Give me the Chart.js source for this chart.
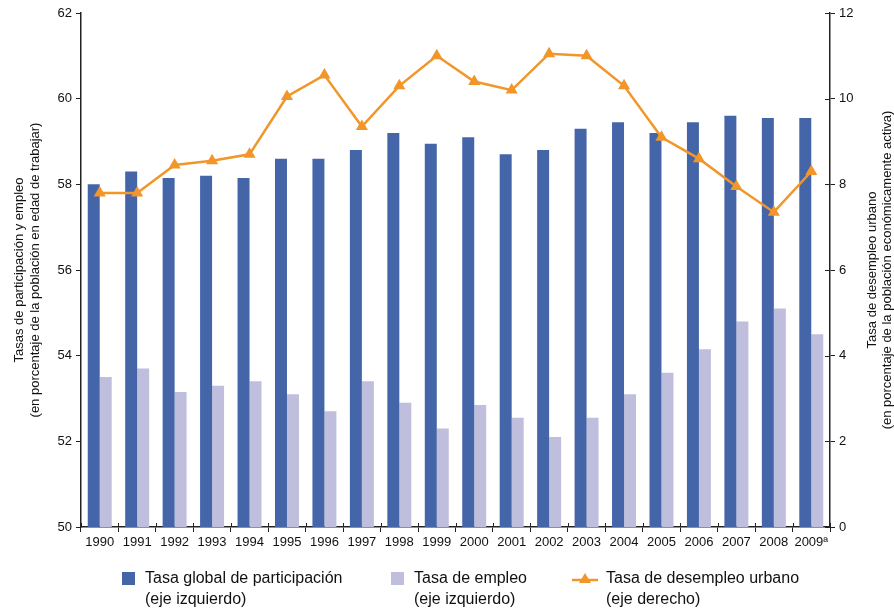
<!DOCTYPE html>
<html>
<head>
<meta charset="utf-8">
<script src="https://cdn.jsdelivr.net/npm/chart.js@4.4.1/dist/chart.umd.min.js"></script>
<style>
  html, body { margin: 0; padding: 0; background: #fff; }
  #wrap { position: relative; width: 894px; height: 608px; font-family: "Liberation Sans", Arial, sans-serif; }
  #legend { position: absolute; left: 0; top: 567px; width: 894px; height: 41px; font-size: 16px; color: #111; }
  .item { position: absolute; top: 0; line-height: 21px; }
  .sw { position: absolute; top: 5px; width: 13px; height: 13px; }
</style>
</head>
<body>
<div id="wrap">
  <canvas id="chart" width="894" height="608"></canvas>
  <div id="legend"></div>
</div>
<script>
// values
let years = ["1990","1991","1992","1993","1994","1995","1996","1997","1998","1999",
             "2000","2001","2002","2003","2004","2005","2006","2007","2008","2009ª"];
let tasaGlobal = [58.0, 58.3, 58.15, 58.2, 58.15, 58.6, 58.6, 58.8, 59.2, 58.95,
                  59.1, 58.7, 58.8, 59.3, 59.45, 59.2, 59.45, 59.6, 59.55, 59.55];
let tasaEmpleo = [53.5, 53.7, 53.15, 53.3, 53.4, 53.1, 52.7, 53.4, 52.9, 52.3,
                  52.85, 52.55, 52.1, 52.55, 53.1, 53.6, 54.15, 54.8, 55.1, 54.5];
let desempleo = [7.8, 7.8, 8.45, 8.55, 8.7, 10.05, 10.55, 9.35, 10.3, 11.0,
                 10.4, 10.2, 11.05, 11.0, 10.3, 9.1, 8.6, 7.95, 7.35, 8.3];
let leftTicks = [50, 52, 54, 56, 58, 60, 62];
let rightTicks = [0, 2, 4, 6, 8, 10, 12];

let legendItems = [
    { l1: "Tasa global de participación", l2: "(eje izquierdo)", color: "#4565a9", kind: "bar", x: 122 },
    { l1: "Tasa de empleo", l2: "(eje izquierdo)", color: "#bfbedc", kind: "bar", x: 391 },
    { l1: "Tasa de desempleo urbano", l2: "(eje derecho)", color: "#f0962a", kind: "line", x: 572 }
];

let FONT = "'Liberation Sans', Arial, sans-serif";

// html legend under the chart
let legendDiv = document.getElementById("legend");
legendItems.forEach(function (it) {
    let d = document.createElement("div");
    d.className = "item";
    d.style.left = it.x + "px";
    let mark;
    if (it.kind === "bar") {
        mark = '<div class="sw" style="left:0;background:' + it.color + '"></div>';
    } else {
        mark = '<svg style="position:absolute;left:0;top:3px" width="27" height="16">' +
               '<line x1="0" y1="10" x2="26" y2="10" stroke="' + it.color + '" stroke-width="2.5"/>' +
               '<polygon points="13,3 19,13 7,13" fill="' + it.color + '"/></svg>';
    }
    let textLeft = it.kind === "bar" ? 23 : 34;
    d.innerHTML = mark + '<div style="margin-left:' + textLeft + 'px">' + it.l1 + '<br>' + it.l2 + '</div>';
    legendDiv.appendChild(d);
});

// axis titles, both read bottom-to-top, plus the tick marks that cross the axis lines
let axisExtras = {
    id: "axisExtras",
    afterDraw(chart) {
        let ctx = chart.ctx;
        let area = chart.chartArea;
        let cy = (area.top + area.bottom) / 2;
        ctx.save();
        ctx.strokeStyle = "#222";
        ctx.lineWidth = 1;
        ctx.beginPath();
        chart.scales.yR.ticks.forEach(function (t) {
            let y = Math.round(chart.scales.yR.getPixelForValue(t.value)) + 0.5;
            ctx.moveTo(area.right - 5, y);
            ctx.lineTo(area.right, y);
        });
        let xs = chart.scales.x;
        for (let i = 0; i <= years.length; i++) {
            let x = Math.round(xs.left + i * (xs.width / years.length)) + 0.5;
            ctx.moveTo(x, area.bottom - 4);
            ctx.lineTo(x, area.bottom);
        }
        ctx.stroke();

        ctx.fillStyle = "#111";
        ctx.font = "13px " + FONT;
        ctx.textAlign = "center";
        ctx.textBaseline = "middle";
        let draw = function (x, txt) {
            ctx.save();
            ctx.translate(x, cy);
            ctx.rotate(-Math.PI / 2);
            ctx.fillText(txt, 0, 0);
            ctx.restore();
        };
        draw(19, "Tasas de participación y empleo");
        draw(35, "(en porcentaje de la población en edad de trabajar)");
        draw(872, "Tasa de desempleo urbano");
        draw(887, "(en porcentaje de la población económicamente activa)");
        ctx.restore();
    }
};

let ctx = document.getElementById("chart").getContext("2d");
new Chart(ctx, {
    data: {
        labels: years,
        datasets: [
            {
                type: "line",
                label: "Tasa de desempleo urbano",
                data: desempleo,
                yAxisID: "yR",
                borderColor: "#f0962a",
                backgroundColor: "#f0962a",
                borderWidth: 2.5,
                pointStyle: "triangle",
                pointRadius: 7,
                pointBorderWidth: 0,
                tension: 0,
                order: 0
            },
            {
                type: "bar",
                label: "Tasa global de participación",
                data: tasaGlobal,
                yAxisID: "yL",
                backgroundColor: "#4565a9",
                barPercentage: 1.0,
                categoryPercentage: 0.64,
                order: 1
            },
            {
                type: "bar",
                label: "Tasa de empleo",
                data: tasaEmpleo,
                yAxisID: "yL",
                backgroundColor: "#bfbedc",
                barPercentage: 1.0,
                categoryPercentage: 0.64,
                order: 2
            }
        ]
    },
    options: {
        responsive: false,
        animation: false,
        layout: { padding: { top: 13, left: 0, right: 0, bottom: 0 } },
        plugins: {
            legend: { display: false },
            tooltip: { enabled: false }
        },
        scales: {
            x: {
                offset: true,
                grid: { offset: true, drawOnChartArea: false, tickLength: 5, color: "#222", lineWidth: 1 },
                border: { color: "#222", width: 1.5 },
                ticks: { color: "#111", font: { size: 13, family: FONT }, maxRotation: 0, autoSkip: false, padding: 3 },
                afterFit(scale) { scale.height = 81; }
            },
            yL: {
                position: "left",
                min: 50, max: 62,
                afterBuildTicks(scale) { scale.ticks = leftTicks.map(v => ({ value: v })); },
                grid: { drawOnChartArea: false, tickLength: 5, color: "#222" },
                border: { color: "#222", width: 1.5 },
                ticks: { color: "#111", font: { size: 13, family: FONT }, padding: 4 },
                afterFit(scale) { scale.width = 81; }
            },
            yR: {
                position: "right",
                min: 0, max: 12,
                afterBuildTicks(scale) { scale.ticks = rightTicks.map(v => ({ value: v })); },
                grid: { drawOnChartArea: false, tickLength: 5, color: "#222" },
                border: { color: "#222", width: 1.5 },
                ticks: { color: "#111", font: { size: 13, family: FONT }, padding: 4 },
                afterFit(scale) { scale.width = 64; }
            }
        }
    },
    plugins: [axisExtras]
});
</script>
</body>
</html>
